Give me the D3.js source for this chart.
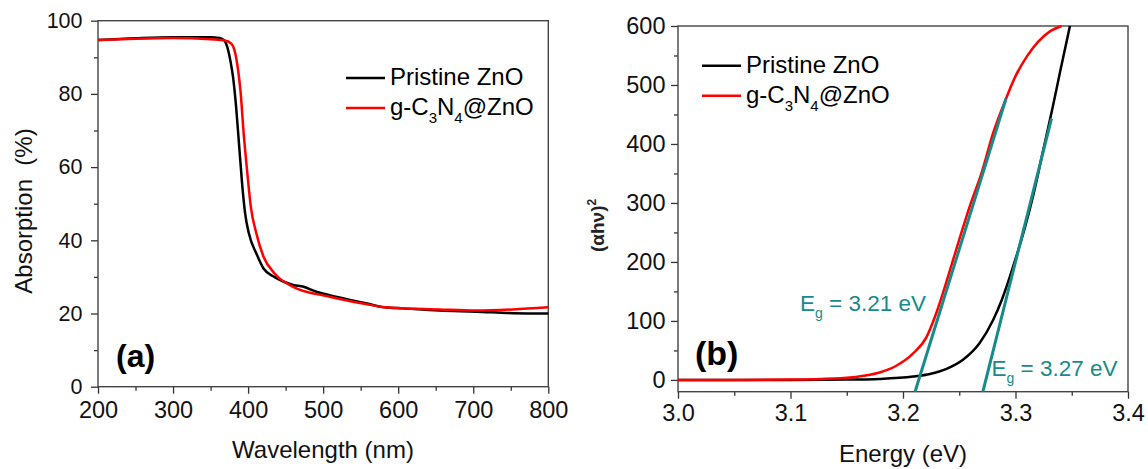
<!DOCTYPE html>
<html>
<head>
<meta charset="utf-8">
<script src="https://cdn.jsdelivr.net/npm/d3@7"></script>
<style>
  body { margin: 0; background: #fff; }
  text { font-family: "Liberation Sans", Arial, sans-serif; }
</style>
</head>
<body>
<script>
//panel (a): absorption spectra
var wlPristine = [200, 250, 300, 350, 362, 368, 372, 376, 380, 384, 388, 392, 396, 401, 411, 420.6, 435, 460, 474, 490, 508.6, 557, 582, 606, 655, 704, 753, 800];
var absPristine = [94.7, 95.2, 95.5, 95.5, 95.3, 94.7, 93, 89.5, 84.5, 76.5, 66, 55.5, 47.4, 41.9, 36.4, 32.3, 30, 27.8, 27.3, 26, 25, 22.8, 21.7, 21.4, 20.8, 20.5, 20.1, 20];
var wlComposite = [200, 250, 300, 350, 370, 376, 380, 383, 386, 390, 394, 399, 403.6, 411, 420.6, 435, 460, 508.6, 557, 582, 655, 704, 753, 800];
var absComposite = [94.7, 95.1, 95.3, 94.9, 94.5, 94.0, 93.0, 91, 87.5, 80.5, 69.5, 58.3, 49.2, 41.9, 35.5, 31, 27.3, 24.6, 22.6, 21.7, 21.1, 20.8, 21.1, 21.7];

//panel (b): Tauc plot
var ePristine = [3.00, 3.10, 3.15, 3.18, 3.209, 3.224, 3.2387, 3.2533, 3.268, 3.28, 3.2877, 3.295, 3.30, 3.3076, 3.3158, 3.3247, 3.333, 3.3396, 3.3484];
var tPristine = [0, 0, 0.5, 1.7, 5.6, 10, 18.6, 34, 62, 101, 135, 175, 205, 253, 313, 390, 462, 522, 600];
var eComposite = [3.00, 3.05, 3.10, 3.12, 3.15, 3.165, 3.18, 3.194, 3.209, 3.221, 3.2284, 3.24, 3.25, 3.26, 3.27, 3.28, 3.2916, 3.300, 3.310, 3.320, 3.330, 3.341];
var tComposite = [0, 0, 0.5, 1, 3.5, 7, 13, 24, 45, 73, 107, 175, 238, 298, 352, 418, 477, 515, 548, 573, 590, 600];

//linear fits for band gap
var fit1 = [[3.2107, -20], [3.2916, 477]];
var fit2 = [[3.271, -20], [3.332, 443]];

var seriesNames = ["Pristine ZnO", "g-C3N4@ZnO"];
var gapLabels = ["3.21", "3.27"];

var width = 1148,
    height = 469;

var teal = "#178a8a";

var svg = d3.select("body")
    .append("svg")
    .attr("width", width)
    .attr("height", height);

svg.append("rect")
    .attr("width", width)
    .attr("height", height)
    .attr("fill", "#fff");

function zip(xs, ys){
    return xs.map(function(x, i){ return [x, ys[i]]; });
}

//draws frame + ticks of a panel
function drawAxes(x, y, opt){
    var r = x.range(), b = y.range();

    svg.append("g")
        .attr("transform", "translate(0," + b[0] + ")")
        .call(d3.axisBottom(x).tickValues(opt.xMinor).tickSize(4).tickSizeOuter(0).tickFormat(""));
    var gx2 = svg.append("g")
        .attr("transform", "translate(0," + b[0] + ")")
        .call(d3.axisBottom(x).tickValues(opt.xMajor).tickSize(7).tickSizeOuter(0)
            .tickPadding(opt.xPad).tickFormat(opt.xFormat));
    gx2.selectAll("text").attr("font-size", opt.xFont);

    svg.append("g")
        .attr("transform", "translate(" + r[0] + ",0)")
        .call(d3.axisLeft(y).tickValues(opt.yMinor).tickSize(4).tickSizeOuter(0).tickFormat(""));
    var gy2 = svg.append("g")
        .attr("transform", "translate(" + r[0] + ",0)")
        .call(d3.axisLeft(y).tickValues(opt.yMajor).tickSize(7).tickSizeOuter(0)
            .tickPadding(opt.yPad).tickFormat(d3.format("d")));
    gy2.selectAll("text").attr("font-size", opt.yFont);

    svg.selectAll(".domain").remove();
    svg.selectAll(".tick line").attr("stroke", "#333").attr("stroke-width", 1.3);
    svg.selectAll(".tick text").attr("fill", "#111").attr("font-family", "Liberation Sans, Arial, sans-serif");

    svg.append("rect")
        .attr("x", r[0])
        .attr("y", b[1])
        .attr("width", r[1] - r[0])
        .attr("height", b[0] - b[1])
        .attr("fill", "none")
        .attr("stroke", "#444")
        .attr("stroke-width", 1.4);
}

function drawLegend(x0, y0, size){
    var colors = ["#000", "#f00"];
    colors.forEach(function(c, i){
        var yy = y0 + i * 30;
        svg.append("line")
            .attr("x1", x0).attr("x2", x0 + 39)
            .attr("y1", yy - 7).attr("y2", yy - 7)
            .attr("stroke", c).attr("stroke-width", 2.5);
    });
    svg.append("text")
        .attr("x", x0 + 44).attr("y", y0)
        .attr("font-size", size)
        .text(seriesNames[0]);
    var t = svg.append("text")
        .attr("x", x0 + 44).attr("y", y0 + 30)
        .attr("font-size", size);
    t.append("tspan").text("g-C");
    t.append("tspan").attr("font-size", 15).attr("dy", 8).text("3");
    t.append("tspan").attr("dy", -8).text("N");
    t.append("tspan").attr("font-size", 15).attr("dy", 8).text("4");
    t.append("tspan").attr("dy", -8).text("@ZnO");
}

// ---------- panel (a) ----------
var xa = d3.scaleLinear().domain([200, 800]).range([98, 548.3]);
var ya = d3.scaleLinear().domain([0, 100]).range([386.7, 20.7]);

drawAxes(xa, ya, {
    xMajor: d3.range(200, 801, 100),
    xMinor: d3.range(250, 800, 100),
    yMajor: d3.range(0, 101, 20),
    yMinor: d3.range(10, 100, 20),
    xPad: 8, yPad: 8.5,
    xFont: 23.5, yFont: 21.5,
    xFormat: d3.format("d")
});

var lineA = d3.line()
    .x(function(d){ return xa(d[0]); })
    .y(function(d){ return ya(d[1]); })
    .curve(d3.curveMonotoneX);

svg.append("path")
    .datum(zip(wlPristine, absPristine))
    .attr("d", lineA)
    .attr("fill", "none")
    .attr("stroke", "#000")
    .attr("stroke-width", 2.5);

svg.append("path")
    .datum(zip(wlComposite, absComposite))
    .attr("d", lineA)
    .attr("fill", "none")
    .attr("stroke", "#f00")
    .attr("stroke-width", 2.5);

drawLegend(346, 85, 24);

svg.append("text")
    .attr("x", 116).attr("y", 366.5)
    .attr("font-size", 32).attr("font-weight", "bold")
    .text("(a)");

svg.append("text")
    .attr("x", 323).attr("y", 458)
    .attr("text-anchor", "middle")
    .attr("font-size", 24)
    .attr("fill", "#111")
    .text("Wavelength (nm)");

svg.append("text")
    .attr("transform", "translate(31.5,211) rotate(-90)")
    .attr("text-anchor", "middle")
    .attr("font-size", 24)
    .attr("fill", "#111")
    .style("white-space", "pre")
    .text("Absorption  (%)");

// ---------- panel (b) ----------
var xb = d3.scaleLinear().domain([3.0, 3.4]).range([678, 1128]);
var yb = d3.scaleLinear().domain([-20, 600]).range([391.7, 26]);

drawAxes(xb, yb, {
    xMajor: [3.0, 3.1, 3.2, 3.3, 3.4],
    xMinor: [3.05, 3.15, 3.25, 3.35],
    yMajor: d3.range(0, 601, 100),
    yMinor: d3.range(50, 600, 100),
    xPad: 6, yPad: 5.5,
    xFont: 23.5, yFont: 23.5,
    xFormat: d3.format(".1f")
});

var lineB = d3.line()
    .x(function(d){ return xb(d[0]); })
    .y(function(d){ return yb(d[1]); })
    .curve(d3.curveMonotoneX);

svg.append("path")
    .datum(zip(ePristine, tPristine))
    .attr("d", lineB)
    .attr("fill", "none")
    .attr("stroke", "#000")
    .attr("stroke-width", 2.5);

svg.append("path")
    .datum(zip(eComposite, tComposite))
    .attr("d", lineB)
    .attr("fill", "none")
    .attr("stroke", "#f00")
    .attr("stroke-width", 2.5);

[fit1, fit2].forEach(function(f){
    svg.append("path")
        .datum(f)
        .attr("d", d3.line().x(function(d){ return xb(d[0]); }).y(function(d){ return yb(d[1]); }))
        .attr("stroke", teal)
        .attr("stroke-width", 3)
        .attr("fill", "none");
});

//band gap labels
[[800, 311], [991.5, 376]].forEach(function(p, i){
    var t = svg.append("text")
        .attr("x", p[0]).attr("y", p[1])
        .attr("font-size", 22.5)
        .attr("fill", teal);
    t.append("tspan").text("E");
    t.append("tspan").attr("font-size", 14).attr("dy", 7).text("g");
    t.append("tspan").attr("dy", -7).text(" = " + gapLabels[i] + " eV");
});

drawLegend(702, 72.7, 24);

svg.append("text")
    .attr("x", 695).attr("y", 365)
    .attr("font-size", 34).attr("font-weight", "bold")
    .text("(b)");

svg.append("text")
    .attr("x", 903).attr("y", 462)
    .attr("text-anchor", "middle")
    .attr("font-size", 24)
    .attr("fill", "#111")
    .text("Energy (eV)");

var yl = svg.append("text")
    .attr("transform", "translate(604,252) rotate(-90)")
    .attr("font-size", 19)
    .attr("font-weight", "bold")
    .attr("fill", "#222");
yl.append("tspan").text("(\u03b1h\u03bd)");
yl.append("tspan").attr("font-size", 12).attr("dy", -8).text("2");
</script>
</body>
</html>
